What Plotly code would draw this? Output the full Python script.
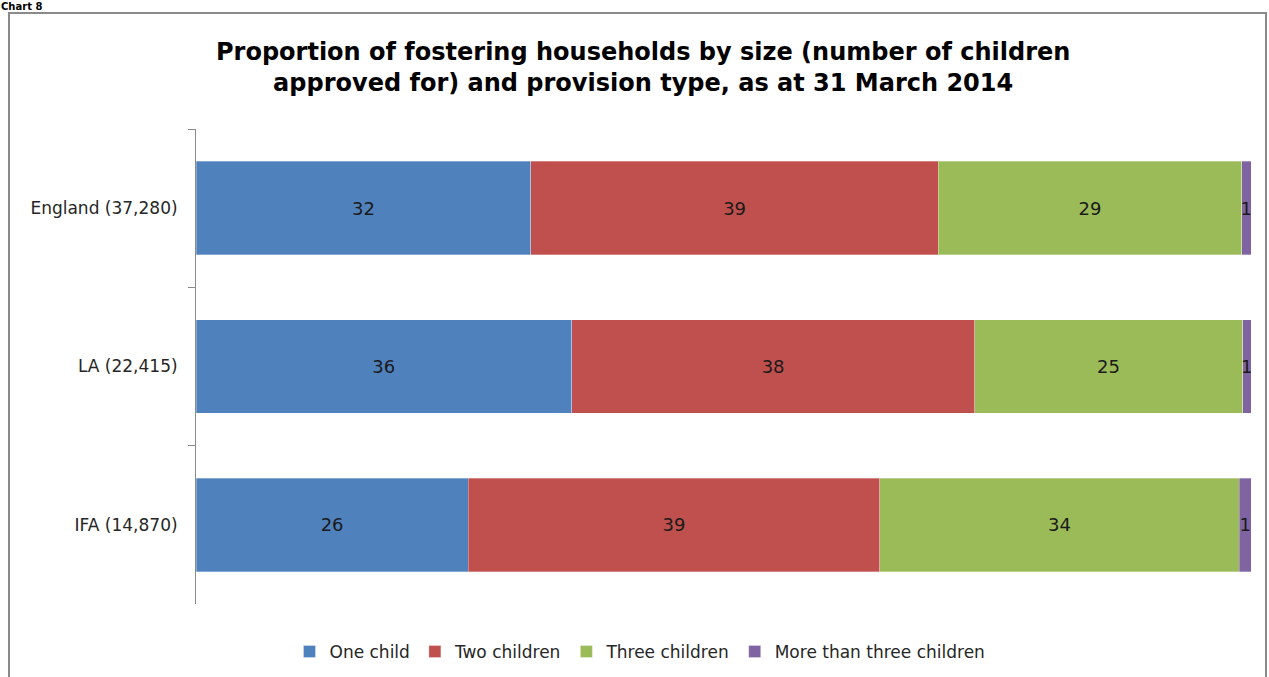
import plotly.graph_objects as go

categories = ["England (37,280)", "LA (22,415)", "IFA (14,870)"]
series_names = ["One child", "Two children", "Three children", "More than three children"]
one_child = [31.7, 35.6, 25.8]
two_children = [38.6, 38.2, 39.0]
three_children = [28.7, 25.4, 34.1]
more_than_three = [0.9, 0.8, 1.1]
labels_one = ["32", "36", "26"]
labels_two = ["39", "38", "39"]
labels_three = ["29", "25", "34"]
labels_more = ["1", "1", "1"]

colors = ["#4F81BD", "#C0504D", "#9BBB59", "#8064A2"]
FONT = "Tahoma, DejaVu Sans, sans-serif"

fig = go.Figure()
for name, vals, labs, col in zip(series_names,
                                  [one_child, two_children, three_children, more_than_three],
                                  [labels_one, labels_two, labels_three, labels_more],
                                  colors):
    fig.add_trace(go.Bar(
        y=categories, x=vals, name=name, orientation="h",
        marker=dict(color=col, line=dict(color="rgba(255,255,255,0.6)", width=0.5)),
        text=labs, texttemplate="%{text}", textposition="inside",
        insidetextanchor="middle", constraintext="none",
        textfont=dict(family=FONT, size=18, color="#1a1a1a"),
        hoverinfo="skip",
    ))

W, H = 1269, 677
L, R, T, B = 196, 18, 129, 73
pw, ph = W - L - R, H - T - B

def px(x):
    return (x - L) / pw

def py(y):
    return 1 - (y - T) / ph

fig.update_layout(
    width=W, height=H,
    barmode="stack", barnorm="percent", bargap=0.41,
    margin=dict(l=L, r=R, t=T, b=B, autoexpand=False),
    paper_bgcolor="white", plot_bgcolor="white",
    font=dict(family=FONT, size=17, color="#262626"),
    showlegend=True,
    legend=dict(orientation="h", xref="container", yref="container",
                x=640 / W, xanchor="center", y=1 - 652 / H, yanchor="middle",
                font=dict(family=FONT, size=17, color="#262626"), traceorder="normal",
                itemwidth=30),
    xaxis=dict(range=[0, 100], visible=False, fixedrange=True),
    yaxis=dict(autorange="reversed", type="category", tickson="boundaries",
               ticks="outside", ticklen=7, tickcolor="#8a8a8a", showline=True,
               linecolor="#8a8a8a", linewidth=1, showgrid=False,
               ticklabelstandoff=14, fixedrange=True,
               tickfont=dict(family=FONT, size=17, color="#262626")),
)

fig.add_annotation(
    xref="paper", yref="paper", x=px(643), y=py(67), xanchor="center", yanchor="middle",
    text="<b>Proportion of fostering households by size (number of children<br>approved for) and provision type, as at 31 March 2014</b>",
    showarrow=False, font=dict(family=FONT, size=24, color="#000"), align="center",
)
fig.add_annotation(
    xref="paper", yref="paper", x=px(0), y=py(0), xanchor="left", yanchor="top",
    text="<b>Chart 8</b>", showarrow=False, font=dict(family=FONT, size=10, color="#000"),
    borderpad=0,
)
fig.add_shape(type="rect", xref="paper", yref="paper",
              x0=px(9), x1=px(1266), y0=py(690), y1=py(13),
              line=dict(color="#8a8a8a", width=2), layer="below")

fig.write_html("out.html", config={"displayModeBar": False},
               post_script="document.body.style.margin='0';")
